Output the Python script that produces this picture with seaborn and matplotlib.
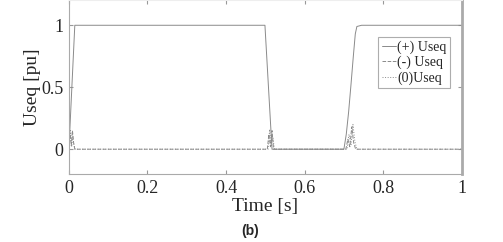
import numpy as np
import pandas as pd
import matplotlib
matplotlib.use('Agg')
import matplotlib.pyplot as plt
import seaborn as sns

# Positive sequence voltage
pos_t = [0.0, 0.015, 0.499, 0.517, 0.700, 0.706, 0.712, 0.718, 0.724, 0.729, 0.733, 0.745, 1.0]
pos_u = [0.0, 1.0, 1.0, 0.0, 0.0, 0.12, 0.30, 0.52, 0.75, 0.93, 0.99, 1.0, 1.0]

# Negative sequence voltage
neg_t = [0.0, 0.003, 0.006, 0.009, 0.012, 0.015, 0.505, 0.509, 0.513, 0.517, 0.521,
         0.705, 0.710, 0.715, 0.720, 0.725, 0.730, 1.0]
neg_u = [0.0, 0.12, 0.03, 0.15, 0.05, 0.0, 0.0, 0.12, 0.02, 0.15, 0.0,
         0.0, 0.08, 0.02, 0.18, 0.05, 0.0, 0.0]

# Zero sequence voltage
zero_t = [0.0, 0.004, 0.007, 0.010, 0.013, 0.016, 0.507, 0.511, 0.515, 0.519, 0.523,
          0.708, 0.713, 0.718, 0.723, 0.728, 0.733, 1.0]
zero_u = [0.0, 0.16, 0.02, 0.10, 0.03, 0.0, 0.0, 0.16, 0.03, 0.10, 0.0,
          0.0, 0.12, 0.03, 0.20, 0.06, 0.0, 0.0]

sns.set_style('ticks')
plt.rcParams['font.family'] = ['Liberation Serif', 'DejaVu Serif']
plt.rcParams['xtick.direction'] = 'in'
plt.rcParams['ytick.direction'] = 'in'

fig = plt.figure(figsize=(5.03, 2.42), dpi=100)
ax = fig.add_axes([0.137, 0.281, 0.781, 0.717])

grey = '#8a8a8a'
sns.lineplot(x=pos_t, y=pos_u, ax=ax, color=grey, lw=0.7, linestyle='-', label='(+) Useq')
sns.lineplot(x=neg_t, y=neg_u, ax=ax, color=grey, lw=0.7, linestyle='--', label='(-) Useq')
sns.lineplot(x=zero_t, y=zero_u, ax=ax, color=grey, lw=0.7, linestyle=':', label='(0)Useq')

ax.set_xlim(0, 1)
ax.set_ylim(-0.2, 1.2)
ax.set_xticks([0, 0.2, 0.4, 0.6, 0.8, 1])
ax.set_xticklabels(['0', '0.2', '0.4', '0.6', '0.8', '1'])
ax.set_yticks([0, 0.5, 1])
ax.set_yticklabels(['0', '0.5', '1'])
ax.tick_params(labelsize=13, length=3, color='#999999', top=True, right=True, pad=4)
for s in ax.spines.values():
    s.set_color('#aaaaaa')
    s.set_linewidth(0.8)
ax.spines['right'].set_linewidth(2)
ax.spines['top'].set_color('#eeeeee')

ax.set_xlabel('Time [s]', fontsize=14, labelpad=1)
ax.set_ylabel('Useq [pu]', fontsize=14, labelpad=0)

leg = ax.legend(loc='upper right', bbox_to_anchor=(0.97, 0.79), fontsize=10,
                frameon=True, fancybox=False, handlelength=1.0, handletextpad=0.1,
                borderpad=0.25, labelspacing=0.15, borderaxespad=0)
leg.get_frame().set_edgecolor('#999999')
leg.get_frame().set_linewidth(0.8)

fig.text(0.497, 0.045, '(b)', fontsize=10, fontweight='bold',
         family='Liberation Sans', ha='center', va='center')

fig.savefig('out.png', dpi=100)
